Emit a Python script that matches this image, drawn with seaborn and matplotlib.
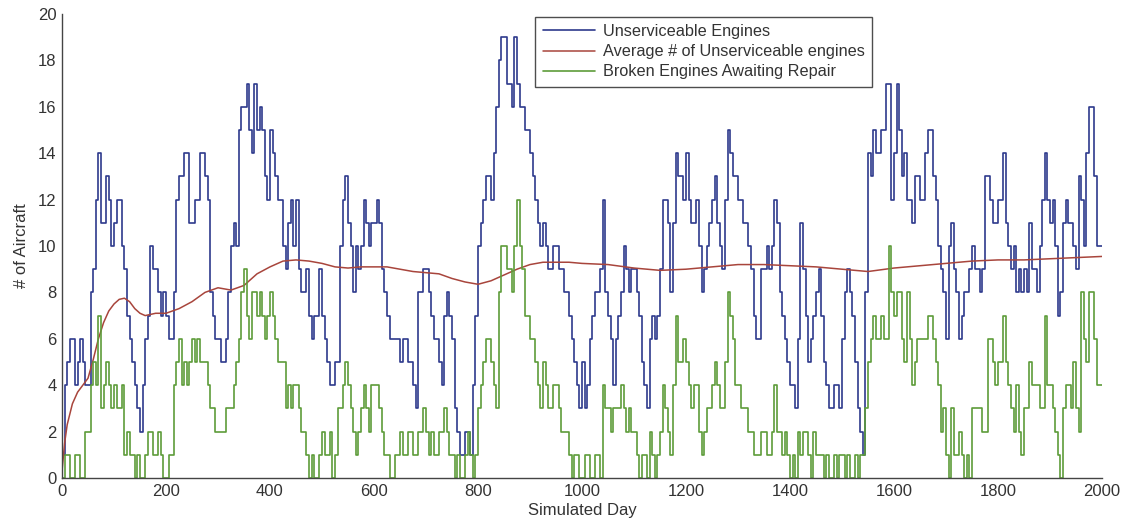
import numpy as np
import pandas as pd
import matplotlib
matplotlib.use("Agg")
import matplotlib.pyplot as plt
import seaborn as sns

# ---- data (one value every 5 days) ----
days = list(range(0, 2001, 5))

unserviceable = [
    1, 4, 5, 6, 6, 4, 5, 6, 5, 4, 4, 8, 9, 12, 14, 11, 11, 13, 12, 10,
    11, 12, 12, 10, 9, 7, 6, 5, 4, 3, 2, 4, 6, 7, 10, 9, 9, 8, 7, 8,
    7, 6, 6, 8, 12, 13, 13, 14, 14, 11, 11, 12, 12, 14, 14, 13, 12, 8, 7, 6,
    6, 5, 5, 6, 8, 10, 11, 10, 15, 16, 16, 17, 15, 14, 17, 15, 16, 15, 13, 12,
    15, 14, 13, 12, 12, 10, 9, 11, 12, 10, 12, 9, 8, 8, 9, 7, 6, 7, 7, 9,
    7, 6, 5, 4, 4, 5, 5, 10, 12, 13, 11, 10, 8, 10, 9, 10, 12, 11, 10, 11,
    11, 12, 11, 9, 8, 7, 6, 6, 6, 6, 5, 6, 6, 5, 5, 4, 3, 8, 8, 9,
    9, 8, 7, 6, 6, 5, 4, 7, 8, 7, 6, 3, 2, 1, 1, 2, 2, 1, 4, 7,
    10, 11, 12, 13, 13, 12, 14, 16, 18, 19, 19, 17, 17, 16, 19, 17, 16, 16, 15, 15,
    14, 13, 12, 11, 10, 11, 10, 9, 9, 10, 10, 9, 9, 8, 8, 7, 6, 5, 4, 3,
    5, 3, 4, 6, 7, 8, 8, 9, 12, 8, 7, 6, 4, 6, 7, 8, 10, 9, 8, 9,
    9, 8, 7, 5, 4, 3, 6, 7, 6, 7, 9, 12, 12, 11, 8, 11, 14, 13, 13, 12,
    14, 12, 11, 11, 12, 10, 8, 9, 10, 11, 12, 13, 11, 10, 9, 12, 15, 14, 13, 13,
    12, 12, 11, 11, 10, 9, 7, 6, 6, 9, 9, 10, 9, 10, 12, 11, 8, 7, 6, 5,
    4, 4, 3, 6, 11, 9, 7, 5, 6, 7, 8, 9, 7, 5, 4, 3, 3, 4, 4, 3,
    6, 8, 9, 8, 7, 5, 3, 2, 1, 8, 14, 13, 15, 14, 14, 15, 15, 17, 17, 12,
    14, 17, 15, 13, 14, 12, 12, 11, 13, 13, 12, 12, 14, 15, 15, 13, 12, 10, 9, 8,
    6, 10, 11, 9, 8, 6, 7, 8, 8, 9, 10, 9, 9, 8, 9, 13, 13, 12, 11, 11,
    12, 12, 14, 11, 10, 9, 10, 8, 9, 8, 9, 8, 11, 9, 9, 8, 10, 12, 14, 12,
    11, 12, 10, 7, 8, 11, 12, 11, 11, 10, 9, 13, 12, 10, 14, 16, 16, 13, 10, 10,
    10,
]

awaiting_repair = [
    0, 1, 1, 0, 0, 1, 1, 0, 0, 2, 2, 4, 5, 4, 7, 3, 4, 5, 4, 3,
    4, 3, 3, 4, 1, 2, 1, 1, 0, 1, 0, 0, 1, 2, 2, 1, 1, 2, 1, 0,
    0, 1, 1, 4, 5, 6, 4, 5, 4, 5, 6, 5, 6, 5, 5, 5, 4, 3, 3, 2,
    2, 2, 2, 3, 3, 3, 4, 5, 6, 8, 9, 7, 6, 8, 8, 7, 8, 7, 6, 7,
    8, 7, 6, 5, 5, 5, 3, 4, 3, 4, 4, 3, 2, 2, 1, 0, 1, 0, 0, 1,
    2, 1, 1, 2, 0, 1, 3, 3, 4, 5, 4, 3, 2, 1, 2, 3, 4, 3, 2, 4,
    4, 4, 3, 2, 1, 1, 0, 0, 1, 1, 2, 1, 1, 2, 2, 1, 1, 2, 2, 3,
    2, 1, 2, 1, 1, 2, 2, 3, 2, 1, 1, 0, 1, 0, 0, 1, 2, 1, 0, 1,
    3, 4, 5, 6, 6, 5, 4, 3, 8, 10, 10, 9, 9, 8, 10, 12, 10, 9, 7, 7,
    6, 6, 5, 4, 3, 5, 4, 3, 3, 4, 4, 3, 2, 2, 2, 1, 0, 1, 1, 0,
    0, 1, 1, 0, 0, 1, 1, 0, 4, 3, 3, 2, 3, 3, 3, 4, 3, 2, 3, 2,
    2, 1, 0, 1, 1, 0, 2, 1, 0, 1, 2, 4, 3, 2, 1, 4, 7, 5, 5, 6,
    5, 4, 3, 4, 4, 2, 1, 2, 3, 3, 4, 5, 4, 3, 3, 5, 8, 7, 6, 4,
    4, 3, 3, 3, 2, 2, 1, 1, 1, 2, 2, 1, 1, 2, 4, 2, 2, 1, 2, 1,
    0, 1, 0, 2, 1, 2, 2, 1, 0, 2, 1, 1, 1, 0, 1, 0, 0, 1, 0, 1,
    1, 0, 1, 0, 0, 1, 0, 1, 1, 3, 5, 6, 7, 6, 6, 7, 6, 6, 10, 8,
    7, 8, 8, 6, 5, 8, 6, 4, 5, 6, 6, 6, 6, 7, 7, 6, 5, 4, 2, 3,
    1, 0, 3, 1, 1, 2, 1, 0, 1, 0, 3, 3, 3, 3, 2, 2, 6, 6, 5, 4,
    5, 5, 7, 5, 4, 3, 2, 4, 2, 1, 3, 3, 5, 4, 4, 4, 3, 3, 7, 4,
    4, 3, 2, 1, 0, 3, 4, 4, 3, 5, 3, 2, 8, 6, 5, 8, 8, 6, 4, 4,
    4,
]

avg_days = [0, 5, 10, 20, 30, 40, 50, 60, 70, 80, 90, 100, 110, 120, 130, 140,
            150, 160, 180, 200, 225, 250, 275, 300, 325, 350, 375, 400, 425,
            450, 475, 500, 525, 550, 575, 600, 625, 650, 675, 700, 725, 750,
            775, 800, 825, 850, 875, 900, 925, 950, 975, 1000, 1050, 1100,
            1150, 1200, 1250, 1300, 1350, 1400, 1450, 1500, 1550, 1600, 1650,
            1700, 1750, 1800, 1850, 1900, 1950, 2000]
avg_unserviceable = [0.3, 1.5, 2.3, 3.2, 3.7, 4.0, 4.3, 5.1, 6.0, 6.7, 7.2, 7.5,
                     7.7, 7.75, 7.6, 7.3, 7.1, 7.0, 7.1, 7.1, 7.3, 7.6, 8.0,
                     8.2, 8.1, 8.3, 8.8, 9.1, 9.35, 9.4, 9.35, 9.25, 9.1, 9.05,
                     9.1, 9.1, 9.1, 9.0, 8.9, 8.85, 8.8, 8.6, 8.45, 8.35, 8.5,
                     8.75, 9.0, 9.2, 9.3, 9.3, 9.3, 9.25, 9.2, 9.05, 8.95, 9.0,
                     9.1, 9.2, 9.2, 9.15, 9.1, 9.0, 8.9, 9.05, 9.15, 9.25, 9.35,
                     9.4, 9.4, 9.45, 9.5, 9.55]

x_ticks = [0, 200, 400, 600, 800, 1000, 1200, 1400, 1600, 1800, 2000]
y_ticks = [0, 2, 4, 6, 8, 10, 12, 14, 16, 18, 20]

# ---- plot ----
sns.set_style("white")
plt.rcParams["font.family"] = ["Liberation Sans", "DejaVu Sans"]

fig = plt.figure(figsize=(11.22, 5.23), dpi=100)
ax = fig.add_axes([62 / 1122, 45 / 523, 1040 / 1122, 464 / 523])

blue = "#2e3a8c"
red = "#a8453c"
green = "#5d9c3a"

df_u = pd.DataFrame({"day": days, "value": unserviceable})
df_a = pd.DataFrame({"day": avg_days, "value": avg_unserviceable})
df_g = pd.DataFrame({"day": days, "value": awaiting_repair})

sns.lineplot(data=df_u, x="day", y="value", ax=ax, color=blue, lw=1.2,
             drawstyle="steps-post", estimator=None,
             label="Unserviceable Engines")
sns.lineplot(data=df_a, x="day", y="value", ax=ax, color=red, lw=1.1,
             estimator=None, label="Average # of Unserviceable engines")
sns.lineplot(data=df_g, x="day", y="value", ax=ax, color=green, lw=1.2,
             drawstyle="steps-post", estimator=None,
             label="Broken Engines Awaiting Repair")

ax.set_xlim(0, 2000)
ax.set_ylim(0, 20)
ax.set_xticks(x_ticks)
ax.set_yticks(y_ticks)
ax.tick_params(direction="in", length=6, width=1, colors="#333333",
               labelsize=12, labelcolor="#333333", pad=4)
for s in ["top", "right"]:
    ax.spines[s].set_visible(False)
for s in ["left", "bottom"]:
    ax.spines[s].set_color("#444444")
    ax.spines[s].set_linewidth(1.0)

ax.set_xlabel("Simulated Day", fontsize=12, color="#333333", labelpad=3)
ax.set_ylabel("# of Aircraft", fontsize=12, color="#333333", labelpad=6)

leg = ax.legend(loc="upper left", bbox_to_anchor=(0.455, 0.994),
                fontsize=11.7, frameon=True, fancybox=False,
                handlelength=3.25, handletextpad=0.45, borderpad=0.45,
                labelspacing=0.32, borderaxespad=0)
leg.get_frame().set_edgecolor("#222222")
leg.get_frame().set_linewidth(1.0)
for t in leg.get_texts():
    t.set_color("#333333")

fig.savefig("out.png", dpi=100)
